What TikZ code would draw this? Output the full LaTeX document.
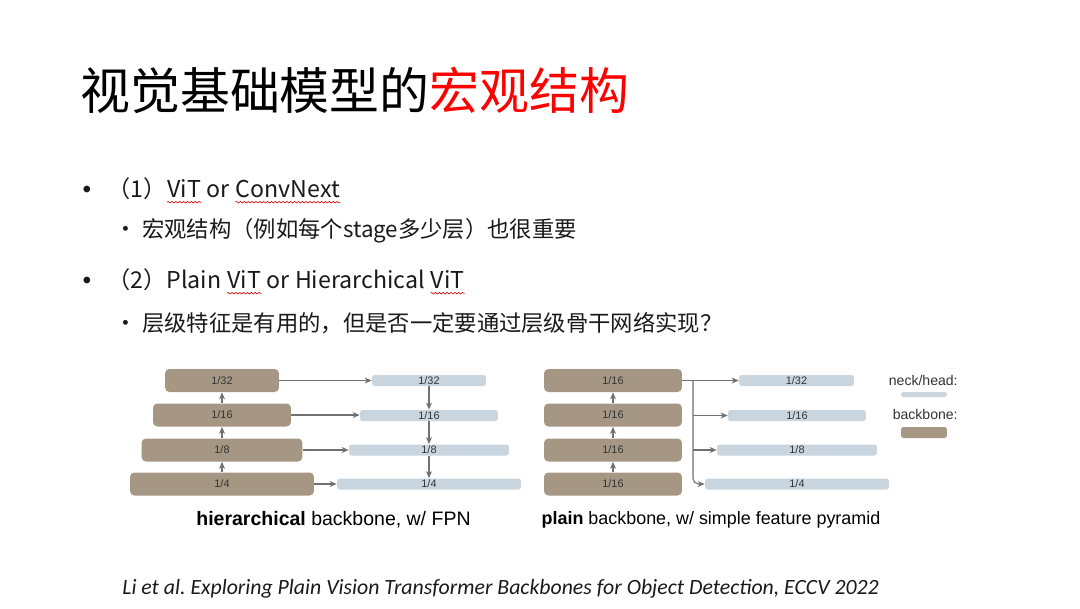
\documentclass[tikz,border=0pt]{standalone}
\usepackage{fontspec}
\setmainfont{Noto Sans CJK SC}
\newfontfamily\arialf{Liberation Sans}
\newfontfamily\calf{Carlito}
\usetikzlibrary{arrows.meta,decorations.pathmorphing}
\definecolor{bbc}{HTML}{A59784}
\definecolor{nkc}{HTML}{C9D5DF}
\definecolor{arc}{HTML}{707070}
\definecolor{txtc}{HTML}{333333}
\definecolor{maintxt}{HTML}{1A1A1A}
\newcommand{\spc}{\kern\fontdimen2\font}
\begin{document}
\begin{tikzpicture}[x=0.02cm,y=-0.02cm,
  bb/.style={fill=bbc, rounded corners=2.5pt, minimum height=0.46cm, inner sep=0,
    font=\arialf\fontsize{6.2}{7}\selectfont, text=txtc},
  nk/.style={fill=nkc, rounded corners=1.5pt, minimum height=0.22cm, inner sep=0,
    font=\arialf\fontsize{6.2}{7}\selectfont, text=txtc},
  arr/.style={draw=arc, line width=0.6pt, -{Stealth[length=4pt,width=3.4pt]}},
  mt/.style={inner sep=0, font=\fontsize{13.2}{16}\selectfont, text=maintxt},
  st/.style={inner sep=0, font=\fontsize{12.7}{15}\selectfont, text=maintxt},
  mbul/.style={inner sep=0, anchor=base, yshift=-2pt, font=\fontsize{18}{19}\selectfont, text=maintxt},
  sbul/.style={inner sep=0, anchor=base, font=\fontsize{13}{15}\selectfont, text=maintxt},
  wavy/.style={draw=red!85!black, line width=0.35pt, decorate,
    decoration={snake, amplitude=0.45pt, segment length=2.2pt}},
  lg/.style={inner sep=0, font=\arialf\fontsize{8}{10}\selectfont, text=txtc},
  capt/.style={inner sep=0, text=black},
]
\useasboundingbox[fill=white] (0,0) rectangle (1080,609);

% title
\node[anchor=west, inner sep=0, font=\fontsize{28.4}{34}\selectfont, text=black] (title) at (80,90)
  {视觉基础模型的\textcolor{red}{宏观结构}};

% bullet 1
\node[mt, anchor=west] (l1a) at (107,189) {（1）};
\node[mt, anchor=base west] (l1v) at (l1a.base east) {ViT};
\node[mt, anchor=base west] (l1o) at (l1v.base east) {\spc or\spc};
\node[mt, anchor=base west] (l1c) at (l1o.base east) {ConvNext};
\node[mbul] (b1) at (87,0 |- l1a.base) {•};
\draw[wavy] ([yshift=-2.5pt]l1v.base west) -- ([yshift=-2.5pt]l1v.base east);
\draw[wavy] ([yshift=-2.5pt]l1c.base west) -- ([yshift=-2.5pt]l1c.base east);

% sub bullet 1
\node[st, anchor=west] (s1) at (142,231) {宏观结构（例如每个stage多少层）也很重要};
\node[sbul] (s1b) at (126,0 |- s1.base) {•};

% bullet 2
\node[mt, anchor=west] (l2a) at (107,280) {（2）Plain\spc};
\node[mt, anchor=base west] (l2v) at (l2a.base east) {ViT};
\node[mt, anchor=base west] (l2o) at (l2v.base east) {\spc or Hierarchical\spc};
\node[mt, anchor=base west] (l2w) at (l2o.base east) {ViT};
\node[mbul] (b2) at (87,0 |- l2a.base) {•};
\draw[wavy] ([yshift=-2.5pt]l2v.base west) -- ([yshift=-2.5pt]l2v.base east);
\draw[wavy] ([yshift=-2.5pt]l2w.base west) -- ([yshift=-2.5pt]l2w.base east);

% sub bullet 2
\node[st, anchor=west] (s2) at (142,323) {层级特征是有用的，但是否一定要通过层级骨干网络实现？};
\node[sbul] (s2b) at (126,0 |- s2.base) {•};

% left diagram
\node[bb, minimum width=2.28cm] (L32) at (222,380.5) {1/32};
\node[bb, minimum width=2.76cm] (L16) at (222,415) {1/16};
\node[bb, minimum width=3.22cm] (L8) at (222,450) {1/8};
\node[bb, minimum width=3.68cm] (L4) at (222,484) {1/4};
\node[nk, minimum width=2.28cm] (M32) at (429,380.5) {1/32};
\node[nk, minimum width=2.76cm] (M16) at (429,415.5) {1/16};
\node[nk, minimum width=3.2cm] (M8) at (429,450) {1/8};
\node[nk, minimum width=3.68cm] (M4) at (429,484) {1/4};
\draw[arr] (L4) -- (L8);
\draw[arr] (L8) -- (L16);
\draw[arr] (L16) -- (L32);
\draw[arr] (L32.east) -- (M32.west);
\draw[arr] (L16.east) -- (L16.east -| M16.west);
\draw[arr] (L8.east) -- (M8.west);
\draw[arr] (L4.east) -- (M4.west);
\draw[arr] (M32) -- (M16);
\draw[arr] (M16) -- (M8);
\draw[arr] (M8) -- (M4);

% right diagram
\node[bb, minimum width=2.76cm] (R1) at (613,380.5) {1/16};
\node[bb, minimum width=2.76cm] (R2) at (613,415) {1/16};
\node[bb, minimum width=2.76cm] (R3) at (613,450) {1/16};
\node[bb, minimum width=2.76cm] (R4) at (613,484) {1/16};
\node[nk, minimum width=2.3cm] (S32) at (796.5,380.5) {1/32};
\node[nk, minimum width=2.76cm] (S16) at (797,415.5) {1/16};
\node[nk, minimum width=3.2cm] (S8) at (797,450) {1/8};
\node[nk, minimum width=3.68cm] (S4) at (797,484) {1/4};
\draw[arr] (R4) -- (R3);
\draw[arr] (R3) -- (R2);
\draw[arr] (R2) -- (R1);
\coordinate (J) at (693,380.5);
\draw[arr] (R1.east) -- (S32.west);
\draw[arr] (J |- S16.west) -- (S16.west);
\draw[arr] (J |- S8.west) -- (S8.west);
\draw[arr, rounded corners=3pt] (J) |- (S4.west);

% legend
\node[lg, anchor=east] (lgn) at (958,380) {neck/head:};
\node[fill=nkc, rounded corners=1pt, minimum width=0.92cm, minimum height=0.1cm, inner sep=0] (lgnb) at (924,394.5) {};
\node[lg, anchor=east] (lgb) at (958,414) {backbone:};
\node[fill=bbc, rounded corners=1.5pt, minimum width=0.92cm, minimum height=0.22cm, inner sep=0] (lgbb) at (924,432.5) {};

% captions
\node[capt, font=\arialf\fontsize{11.1}{13}\selectfont] (c1) at (333.5,520) {\textbf{hierarchical} backbone, w/ FPN};
\node[capt, font=\arialf\fontsize{10.2}{13}\selectfont] (c2) at (711,520) {\textbf{plain} backbone, w/ simple feature pyramid};

% citation
\node[anchor=west, inner sep=0, font=\calf\itshape\fontsize{12.4}{15}\selectfont, text=maintxt] (cite) at (122,589)
  {\frenchspacing Li et al. Exploring Plain Vision Transformer Backbones for Object Detection, ECCV 2022};
\end{tikzpicture}
\end{document}
